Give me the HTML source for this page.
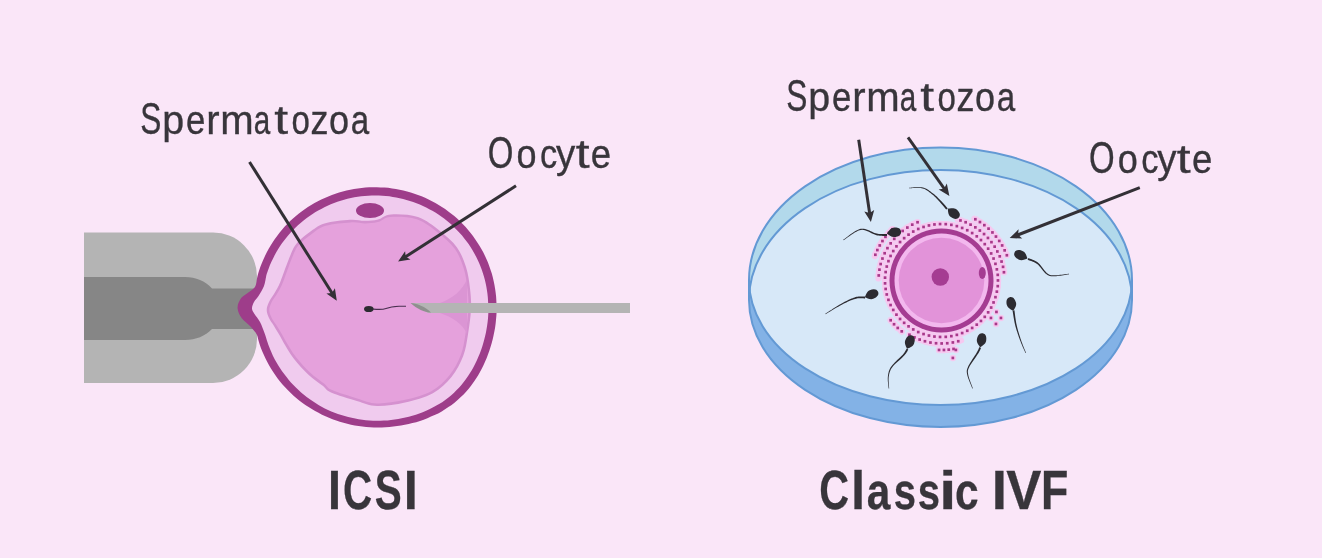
<!DOCTYPE html>
<html><head><meta charset="utf-8"><style>
html,body{margin:0;padding:0;background:#fae6f8;width:1322px;height:558px;overflow:hidden}
svg{display:block;position:absolute;left:0;top:0}
svg.t{will-change:transform}
text{font-family:"Liberation Sans",sans-serif}
</style></head><body>
<svg width="1322" height="558" viewBox="0 0 1322 558">
<rect width="1322" height="558" fill="#fae6f8"/>
<path d="M84,232.5 H213 A44,44 0 0 1 257,276.5 V339 A44,44 0 0 1 213,383 H84 Z" fill="#b4b4b4"/>
<path d="M84,277 H185 C196,277 205,281 212,288.5 H262 V329 H212 C205,336 196,340 185,340 H84 Z" fill="#868686"/>
<path d="M257.2,277.5 C257.9,274.7 258.5,272.6 259.3,270.1 C260.1,267.6 261.0,265.2 262.0,262.8 C263.0,260.4 264.0,258.0 265.1,255.7 C266.2,253.4 267.4,251.1 268.7,248.8 C270.0,246.6 271.3,244.4 272.7,242.2 C274.1,240.1 275.6,237.9 277.1,235.9 C278.7,233.8 280.3,231.8 282.0,229.8 C283.6,227.9 285.4,226.0 287.2,224.1 C288.9,222.3 290.8,220.5 292.7,218.8 C294.6,217.1 296.6,215.4 298.6,213.8 C300.6,212.2 302.6,210.7 304.7,209.2 C306.8,207.7 309.0,206.3 311.2,205.0 C313.4,203.7 315.6,202.4 317.9,201.2 C320.1,200.1 322.4,198.9 324.8,197.9 C327.1,196.9 329.5,195.9 331.9,195.0 C334.2,194.1 336.7,193.3 339.1,192.5 C341.6,191.8 344.0,191.1 346.5,190.5 C349.0,189.9 351.5,189.4 354.0,189.0 C356.5,188.6 359.0,188.2 361.6,187.9 C364.1,187.7 366.6,187.5 369.2,187.3 C371.7,187.2 374.3,187.2 376.8,187.2 C379.4,187.3 381.9,187.4 384.5,187.6 C387.0,187.8 389.5,188.0 392.1,188.4 C394.6,188.7 397.1,189.2 399.6,189.7 C402.1,190.2 404.6,190.8 407.1,191.4 C409.5,192.1 412.0,192.8 414.4,193.7 C416.8,194.5 419.2,195.4 421.6,196.3 C423.9,197.3 426.3,198.3 428.6,199.4 C430.9,200.6 433.1,201.7 435.4,203.0 C437.6,204.3 439.8,205.6 441.9,207.0 C444.1,208.4 446.2,209.8 448.3,211.4 C450.3,212.9 452.3,214.5 454.3,216.1 C456.2,217.8 458.1,219.5 460.0,221.3 C461.8,223.1 463.6,224.9 465.4,226.8 C467.1,228.7 468.8,230.7 470.4,232.7 C472.0,234.7 473.6,236.8 475.0,238.9 C476.5,241.0 477.9,243.2 479.3,245.4 C480.6,247.6 481.9,249.8 483.1,252.1 C484.3,254.4 485.4,256.7 486.4,259.1 C487.5,261.4 488.5,263.8 489.3,266.3 C490.2,268.7 491.0,271.2 491.8,273.6 C492.5,276.1 493.1,278.6 493.7,281.2 C494.3,283.7 494.7,286.2 495.1,288.8 C495.5,291.4 495.8,293.9 496.1,296.5 C496.3,299.1 496.4,301.7 496.5,304.3 C496.6,306.9 496.6,309.5 496.6,312.1 C496.5,314.6 496.3,317.2 496.0,319.8 C495.8,322.4 495.5,325.0 495.1,327.6 C494.7,330.1 494.2,332.7 493.6,335.2 C493.1,337.8 492.5,340.3 491.8,342.8 C491.1,345.3 490.3,347.8 489.5,350.3 C488.6,352.8 487.7,355.2 486.8,357.7 C485.8,360.1 484.7,362.5 483.6,364.9 C482.5,367.3 481.3,369.6 480.0,371.9 C478.7,374.2 477.4,376.5 475.9,378.7 C474.5,381.0 473.0,383.1 471.4,385.2 C469.8,387.4 468.1,389.4 466.3,391.4 C464.5,393.4 462.7,395.3 460.8,397.1 C458.9,399.0 456.9,400.7 454.8,402.4 C452.7,404.1 450.6,405.7 448.4,407.1 C446.2,408.6 443.9,410.0 441.7,411.4 C439.4,412.7 437.0,413.9 434.6,415.1 C432.2,416.2 429.8,417.2 427.4,418.2 C424.9,419.2 422.5,420.1 420.0,420.9 C417.5,421.7 414.9,422.4 412.4,423.1 C409.9,423.7 407.4,424.3 404.8,424.8 C402.3,425.3 399.7,425.8 397.1,426.1 C394.6,426.5 392.0,426.8 389.4,427.0 C386.8,427.2 384.2,427.4 381.7,427.4 C379.1,427.5 376.5,427.5 373.9,427.4 C371.4,427.3 368.8,427.2 366.2,427.0 C363.7,426.7 361.1,426.4 358.6,426.0 C356.0,425.7 353.5,425.2 351.0,424.7 C348.5,424.1 346.0,423.5 343.5,422.8 C341.0,422.2 338.6,421.4 336.2,420.6 C333.7,419.7 331.3,418.8 329.0,417.8 C326.6,416.9 324.3,415.8 322.0,414.7 C319.7,413.5 317.4,412.4 315.1,411.1 C312.9,409.8 310.7,408.5 308.6,407.1 C306.4,405.7 304.3,404.2 302.2,402.7 C300.2,401.1 298.2,399.5 296.2,397.9 C294.2,396.2 292.3,394.5 290.5,392.7 C288.6,390.9 286.8,389.1 285.1,387.2 C283.3,385.3 281.7,383.4 280.0,381.4 C278.4,379.4 276.9,377.3 275.4,375.2 C273.9,373.1 272.5,370.9 271.1,368.7 C269.8,366.5 268.5,364.3 267.3,362.0 C266.1,359.7 264.9,357.4 263.9,355.0 C262.8,352.7 261.8,350.3 260.9,347.9 C260.0,345.5 259.2,342.8 258.5,340.5 C257.7,338.2 257.9,336.4 256.5,334.0 C255.1,331.6 252.4,328.6 250.0,326.0 C247.6,323.4 244.1,321.4 242.0,318.5 C239.9,315.6 237.8,311.8 237.6,308.5 C237.3,305.2 238.9,301.5 240.5,299.0 C242.1,296.5 244.6,295.5 247.0,293.5 C249.4,291.5 253.3,289.7 255.0,287.0 C256.7,284.3 256.4,280.4 257.2,277.5 Z" fill="#9e3d8a"/>
<path d="M266.3,275.5 C267.1,272.6 267.8,270.9 268.6,268.7 C269.4,266.5 270.3,264.3 271.3,262.1 C272.3,260.0 273.3,257.8 274.4,255.7 C275.5,253.6 276.7,251.5 277.9,249.5 C279.1,247.5 280.4,245.5 281.8,243.6 C283.2,241.6 284.6,239.7 286.1,237.9 C287.5,236.1 289.1,234.3 290.7,232.5 C292.3,230.8 293.9,229.1 295.6,227.4 C297.3,225.8 299.1,224.2 300.9,222.7 C302.6,221.1 304.5,219.7 306.4,218.3 C308.3,216.9 310.2,215.5 312.2,214.2 C314.1,212.9 316.1,211.7 318.2,210.5 C320.2,209.4 322.3,208.3 324.4,207.2 C326.5,206.2 328.6,205.2 330.8,204.3 C333.0,203.4 335.2,202.6 337.4,201.8 C339.6,201.1 341.8,200.4 344.1,199.7 C346.4,199.1 348.6,198.5 350.9,198.0 C353.2,197.6 355.5,197.1 357.8,196.8 C360.1,196.4 362.5,196.2 364.8,196.0 C367.1,195.7 369.5,195.6 371.8,195.5 C374.1,195.5 376.5,195.5 378.8,195.6 C381.2,195.6 383.5,195.8 385.8,196.0 C388.2,196.2 390.5,196.5 392.8,196.9 C395.1,197.2 397.4,197.7 399.7,198.2 C402.0,198.7 404.3,199.3 406.5,199.9 C408.8,200.5 411.0,201.2 413.2,202.0 C415.4,202.8 417.6,203.6 419.8,204.6 C421.9,205.5 424.1,206.5 426.2,207.5 C428.3,208.6 430.3,209.7 432.4,210.8 C434.4,212.0 436.4,213.3 438.4,214.6 C440.3,215.9 442.2,217.2 444.1,218.6 C446.0,220.1 447.8,221.5 449.6,223.1 C451.4,224.6 453.2,226.2 454.8,227.9 C456.5,229.5 458.2,231.2 459.7,233.0 C461.3,234.7 462.9,236.5 464.3,238.4 C465.8,240.2 467.2,242.2 468.6,244.1 C469.9,246.0 471.2,248.0 472.4,250.1 C473.6,252.1 474.8,254.2 475.9,256.3 C477.0,258.4 478.0,260.5 479.0,262.7 C479.9,264.9 480.8,267.1 481.6,269.3 C482.4,271.6 483.2,273.8 483.8,276.1 C484.5,278.4 485.1,280.7 485.6,283.0 C486.1,285.3 486.6,287.7 486.9,290.0 C487.3,292.4 487.6,294.7 487.8,297.1 C488.0,299.5 488.1,301.9 488.2,304.2 C488.3,306.6 488.4,309.0 488.4,311.4 C488.3,313.8 488.2,316.2 488.0,318.6 C487.8,320.9 487.5,323.3 487.1,325.7 C486.8,328.0 486.3,330.4 485.9,332.8 C485.4,335.1 484.8,337.4 484.2,339.8 C483.6,342.1 482.9,344.4 482.2,346.7 C481.4,349.0 480.6,351.2 479.8,353.5 C478.9,355.7 477.9,358.0 476.9,360.2 C475.9,362.4 474.8,364.6 473.7,366.7 C472.6,368.9 471.3,371.0 470.0,373.1 C468.8,375.1 467.4,377.2 466.0,379.1 C464.5,381.1 463.0,383.1 461.4,384.9 C459.8,386.8 458.2,388.6 456.4,390.3 C454.7,392.1 452.9,393.8 451.0,395.4 C449.2,397.0 447.2,398.5 445.2,399.9 C443.2,401.4 441.2,402.7 439.1,404.0 C437.0,405.3 434.9,406.5 432.7,407.6 C430.5,408.7 428.3,409.8 426.1,410.7 C423.8,411.7 421.6,412.6 419.3,413.4 C417.0,414.2 414.7,415.0 412.3,415.7 C410.0,416.3 407.7,416.9 405.3,417.5 C402.9,418.0 400.6,418.5 398.2,418.9 C395.8,419.3 393.4,419.6 391.0,419.9 C388.7,420.2 386.3,420.4 383.9,420.5 C381.5,420.6 379.1,420.7 376.7,420.7 C374.3,420.7 371.9,420.6 369.5,420.4 C367.1,420.3 364.7,420.1 362.3,419.8 C359.9,419.5 357.6,419.1 355.2,418.6 C352.9,418.2 350.5,417.7 348.2,417.1 C345.9,416.5 343.6,415.8 341.3,415.1 C339.1,414.4 336.8,413.6 334.6,412.7 C332.4,411.8 330.2,410.9 328.0,409.9 C325.9,408.9 323.7,407.8 321.6,406.7 C319.5,405.5 317.5,404.3 315.5,403.0 C313.4,401.8 311.5,400.5 309.5,399.1 C307.6,397.7 305.7,396.2 303.9,394.7 C302.0,393.2 300.2,391.7 298.5,390.0 C296.7,388.4 295.0,386.8 293.4,385.0 C291.7,383.3 290.1,381.6 288.6,379.7 C287.1,377.9 285.6,376.0 284.2,374.1 C282.7,372.2 281.4,370.3 280.1,368.3 C278.8,366.3 277.5,364.3 276.4,362.2 C275.2,360.1 274.1,358.0 273.0,355.9 C272.0,353.7 271.0,351.5 270.1,349.3 C269.2,347.1 268.5,345.4 267.6,342.6 C266.7,339.9 265.8,336.4 264.5,333.0 C263.2,329.6 261.7,325.2 260.0,322.0 C258.3,318.8 255.8,316.2 254.5,314.0 C253.2,311.8 252.1,310.5 252.0,308.5 C251.9,306.5 252.9,304.1 254.0,302.0 C255.1,299.9 256.8,298.7 258.5,296.0 C260.2,293.3 262.7,289.4 264.0,286.0 C265.3,282.6 265.6,278.4 266.3,275.5 Z" fill="#f0cbee"/>
<path d="M266.7,310.0 C266.7,307.3 267.8,304.7 269.0,302.0 C270.2,299.3 272.3,296.8 274.0,294.0 C275.7,291.2 277.6,288.0 279.0,285.0 C280.4,282.0 280.6,281.0 282.5,276.0 C284.4,271.0 288.1,260.5 290.5,255.0 C292.9,249.5 293.8,246.8 297.0,243.0 C300.2,239.2 304.9,235.6 309.5,232.3 C314.1,229.1 317.8,225.6 324.5,223.5 C331.2,221.4 343.2,220.2 350.0,219.8 C356.8,219.4 360.3,220.9 365.0,220.8 C369.7,220.8 373.7,220.6 378.0,219.5 C382.3,218.4 384.3,214.8 391.0,214.4 C397.7,214.0 409.8,214.2 418.0,217.0 C426.2,219.8 433.5,225.9 440.0,231.0 C446.5,236.1 452.7,241.5 457.0,247.5 C461.3,253.5 463.8,260.2 466.0,267.0 C468.2,273.8 469.2,281.4 470.0,288.5 C470.8,295.6 471.4,301.8 471.0,309.5 C470.6,317.2 469.2,327.2 467.9,335.0 C466.6,342.8 465.9,349.0 463.2,356.0 C460.5,363.0 456.6,370.7 451.5,376.9 C446.4,383.1 440.6,388.9 432.9,393.2 C425.1,397.5 414.3,400.4 405.0,402.5 C395.7,404.6 385.0,406.2 377.0,406.0 C369.0,405.8 364.5,403.2 356.8,401.0 C349.1,398.8 336.7,395.0 331.0,392.5 C325.3,390.0 326.5,388.8 322.7,385.8 C318.9,382.8 313.0,379.1 308.2,374.5 C303.4,369.9 297.6,363.3 293.7,358.4 C289.8,353.5 287.3,348.7 285.0,345.0 C282.7,341.3 281.8,339.2 280.0,336.0 C278.2,332.8 275.8,329.0 274.0,326.0 C272.2,323.0 270.2,320.7 269.0,318.0 C267.8,315.3 266.7,312.7 266.7,310.0 Z" fill="#d591cf"/>
<path d="M269.3,310.0 C269.3,307.4 270.4,304.8 271.6,302.2 C272.8,299.6 274.9,297.2 276.6,294.5 C278.2,291.7 280.1,288.6 281.5,285.7 C282.9,282.8 283.1,281.9 284.9,277.0 C286.8,272.1 290.3,261.9 292.6,256.5 C294.9,251.2 295.8,248.5 298.9,244.8 C302.0,241.1 306.6,237.5 311.1,234.4 C315.5,231.2 319.1,227.8 325.7,225.8 C332.2,223.8 343.9,222.8 350.5,222.4 C357.1,221.9 360.6,223.4 365.1,223.4 C369.6,223.4 373.5,223.2 377.7,222.1 C381.9,221.0 383.9,217.4 390.4,216.9 C396.9,216.5 408.8,216.6 416.8,219.3 C424.8,222.0 431.9,228.0 438.3,232.9 C444.6,237.9 450.7,243.2 454.9,249.0 C459.1,254.9 461.5,261.4 463.6,268.1 C465.7,274.7 466.7,282.1 467.5,289.1 C468.3,296.0 468.7,302.0 468.4,309.5 C468.1,317.1 466.6,326.8 465.4,334.4 C464.1,342.0 463.5,348.1 460.8,354.9 C458.2,361.7 454.4,369.2 449.5,375.3 C444.5,381.3 438.9,387.0 431.3,391.2 C423.7,395.3 413.1,398.0 404.0,400.1 C394.9,402.1 384.6,403.7 376.8,403.4 C368.9,403.1 364.6,400.6 357.1,398.4 C349.7,396.2 337.6,392.6 332.1,390.1 C326.6,387.7 327.7,386.5 324.0,383.6 C320.4,380.7 314.7,377.0 310.0,372.6 C305.3,368.2 299.7,361.8 295.9,357.0 C292.1,352.2 289.6,347.6 287.4,344.0 C285.2,340.4 284.3,338.4 282.5,335.3 C280.7,332.2 278.4,328.5 276.6,325.6 C274.7,322.7 272.8,320.4 271.6,317.8 C270.4,315.2 269.3,312.6 269.3,310.0 Z" fill="#e5a1dc"/>
<path d="M467,279 C463,290 452,299 440,303 L440,313 C452,317 463,324 467,334 Z" fill="#db95d4"/>
<ellipse cx="370" cy="210.5" rx="14" ry="7.5" fill="#9e3d8a"/>
<polygon points="411,303 630,303 630,313 428,313" fill="#b4b4b4"/>
<path d="M410.5,303 C416,303 426,307 431,312.5 C426,313 417,309 410.5,303 Z" fill="#8e908e"/>
<path d="M372,309 C378,309.5 382,310 386,308.5 C390,307 394,306.5 399,306.3 C402,306.2 404,306.3 406,306.2" fill="none" stroke="#4a3050" stroke-width="1.1"/>
<ellipse cx="368.8" cy="309" rx="4.8" ry="3.1" fill="#2c2b31"/>
<line x1="249.5" y1="162.0" x2="332.3" y2="293.5" stroke="#333036" stroke-width="3"/><polygon points="336.8,300.7 326.4,293.6 332.0,293.1 334.9,288.3" fill="#333036"/>
<line x1="516.0" y1="185.8" x2="405.2" y2="257.0" stroke="#333036" stroke-width="3"/><polygon points="398.1,261.6 405.1,251.2 405.7,256.7 410.5,259.6" fill="#333036"/>
<path d="M749,280 A191.5,132.5 0 0 1 1132,280 L1132,300 A191.5,127 0 0 1 749,300 Z" fill="#83b2e6"/>
<path d="M749,280 A191.5,132.5 0 0 1 1132,280 L1132,300 A191.5,130 0 0 0 749,300 Z" fill="#b2d9eb"/>
<path d="M749,300 A191.5,130 0 0 1 1132,300 L1132,280 A191.5,125 0 0 1 749,280 Z" fill="#d7e8f8"/>
<g fill="none" stroke="#6399d4" stroke-width="2"><path d="M749,280 A191.5,132.5 0 0 1 1132,280 L1132,300 A191.5,127 0 0 1 749,300 Z"/><path d="M749,300 A191.5,130 0 0 1 1132,300"/><path d="M1132,280 A191.5,125 0 0 1 749,280"/></g>
<g fill="none" stroke="#f6c9f0" stroke-width="6.2" stroke-linecap="round"><circle cx="941.5" cy="280.5" r="54.5"/><circle cx="941.5" cy="280.5" r="56.5"/><path d="M961.0,340.4 A63,63 0 0 1 911.9,336.1"/><path d="M901.8,331.3 A64.5,64.5 0 0 1 890.7,320.2"/><path d="M878.5,278.3 A63,63 0 0 1 914.9,223.4"/><path d="M874.8,256.2 A71,71 0 0 1 891.3,230.3"/><path d="M957.8,219.6 A63,63 0 0 1 1003.5,269.6"/><path d="M974.4,218.7 A70,70 0 0 1 1006.4,254.3"/><path d="M953.6,348.9 A69.5,69.5 0 0 1 939.1,350.0"/></g>
<g fill="#f6c9f0"><circle cx="998.0" cy="280.5" r="3.2"/><circle cx="997.7" cy="286.1" r="3.2"/><circle cx="996.9" cy="291.7" r="3.2"/><circle cx="995.5" cy="297.2" r="3.2"/><circle cx="993.6" cy="302.4" r="3.2"/><circle cx="991.1" cy="307.5" r="3.2"/><circle cx="988.2" cy="312.3" r="3.2"/><circle cx="984.8" cy="316.8" r="3.2"/><circle cx="981.0" cy="320.9" r="3.2"/><circle cx="976.7" cy="324.7" r="3.2"/><circle cx="972.2" cy="328.0" r="3.2"/><circle cx="967.3" cy="330.8" r="3.2"/><circle cx="962.1" cy="333.1" r="3.2"/><circle cx="956.8" cy="334.9" r="3.2"/><circle cx="951.3" cy="336.1" r="3.2"/><circle cx="945.7" cy="336.8" r="3.2"/><circle cx="940.1" cy="337.0" r="3.2"/><circle cx="934.5" cy="336.6" r="3.2"/><circle cx="928.9" cy="335.6" r="3.2"/><circle cx="923.5" cy="334.1" r="3.2"/><circle cx="918.3" cy="332.0" r="3.2"/><circle cx="913.2" cy="329.4" r="3.2"/><circle cx="908.5" cy="326.4" r="3.2"/><circle cx="904.1" cy="322.9" r="3.2"/><circle cx="900.1" cy="318.9" r="3.2"/><circle cx="896.5" cy="314.6" r="3.2"/><circle cx="893.3" cy="310.0" r="3.2"/><circle cx="890.6" cy="305.0" r="3.2"/><circle cx="888.4" cy="299.8" r="3.2"/><circle cx="886.7" cy="294.4" r="3.2"/><circle cx="885.6" cy="288.9" r="3.2"/><circle cx="885.1" cy="283.3" r="3.2"/><circle cx="885.1" cy="277.7" r="3.2"/><circle cx="885.6" cy="272.1" r="3.2"/><circle cx="886.7" cy="266.6" r="3.2"/><circle cx="888.4" cy="261.2" r="3.2"/><circle cx="890.6" cy="256.0" r="3.2"/><circle cx="893.3" cy="251.0" r="3.2"/><circle cx="896.5" cy="246.4" r="3.2"/><circle cx="900.1" cy="242.1" r="3.2"/><circle cx="904.1" cy="238.1" r="3.2"/><circle cx="908.5" cy="234.6" r="3.2"/><circle cx="913.2" cy="231.6" r="3.2"/><circle cx="918.3" cy="229.0" r="3.2"/><circle cx="923.5" cy="226.9" r="3.2"/><circle cx="928.9" cy="225.4" r="3.2"/><circle cx="934.5" cy="224.4" r="3.2"/><circle cx="940.1" cy="224.0" r="3.2"/><circle cx="945.7" cy="224.2" r="3.2"/><circle cx="951.3" cy="224.9" r="3.2"/><circle cx="956.8" cy="226.1" r="3.2"/><circle cx="962.1" cy="227.9" r="3.2"/><circle cx="967.3" cy="230.2" r="3.2"/><circle cx="972.2" cy="233.0" r="3.2"/><circle cx="976.7" cy="236.3" r="3.2"/><circle cx="981.0" cy="240.1" r="3.2"/><circle cx="984.8" cy="244.2" r="3.2"/><circle cx="988.2" cy="248.7" r="3.2"/><circle cx="991.1" cy="253.5" r="3.2"/><circle cx="993.6" cy="258.6" r="3.2"/><circle cx="995.5" cy="263.8" r="3.2"/><circle cx="996.9" cy="269.3" r="3.2"/><circle cx="997.7" cy="274.9" r="3.2"/><circle cx="958.3" cy="341.2" r="3.2"/><circle cx="952.8" cy="342.5" r="3.2"/><circle cx="947.2" cy="343.2" r="3.2"/><circle cx="941.6" cy="343.5" r="3.2"/><circle cx="936.0" cy="343.3" r="3.2"/><circle cx="930.4" cy="342.5" r="3.2"/><circle cx="925.0" cy="341.3" r="3.2"/><circle cx="919.6" cy="339.6" r="3.2"/><circle cx="914.4" cy="337.4" r="3.2"/><circle cx="909.5" cy="334.8" r="3.2"/><circle cx="901.8" cy="331.3" r="3.2"/><circle cx="897.8" cy="327.9" r="3.2"/><circle cx="894.1" cy="324.2" r="3.2"/><circle cx="890.7" cy="320.2" r="3.2"/><circle cx="878.7" cy="275.4" r="3.2"/><circle cx="879.4" cy="269.7" r="3.2"/><circle cx="880.7" cy="264.1" r="3.2"/><circle cx="882.4" cy="258.6" r="3.2"/><circle cx="884.7" cy="253.3" r="3.2"/><circle cx="887.4" cy="248.2" r="3.2"/><circle cx="890.6" cy="243.4" r="3.2"/><circle cx="894.2" cy="238.9" r="3.2"/><circle cx="898.2" cy="234.7" r="3.2"/><circle cx="902.6" cy="230.9" r="3.2"/><circle cx="907.3" cy="227.6" r="3.2"/><circle cx="912.3" cy="224.7" r="3.2"/><circle cx="917.5" cy="222.2" r="3.2"/><circle cx="875.3" cy="254.8" r="3.2"/><circle cx="877.4" cy="250.0" r="3.2"/><circle cx="879.8" cy="245.4" r="3.2"/><circle cx="882.5" cy="241.1" r="3.2"/><circle cx="885.5" cy="236.9" r="3.2"/><circle cx="888.8" cy="232.9" r="3.2"/><circle cx="892.4" cy="229.2" r="3.2"/><circle cx="960.4" cy="220.4" r="3.2"/><circle cx="965.6" cy="222.3" r="3.2"/><circle cx="970.6" cy="224.6" r="3.2"/><circle cx="975.3" cy="227.4" r="3.2"/><circle cx="979.9" cy="230.5" r="3.2"/><circle cx="984.1" cy="234.1" r="3.2"/><circle cx="987.9" cy="237.9" r="3.2"/><circle cx="991.5" cy="242.1" r="3.2"/><circle cx="994.6" cy="246.7" r="3.2"/><circle cx="997.4" cy="251.4" r="3.2"/><circle cx="999.7" cy="256.4" r="3.2"/><circle cx="1001.6" cy="261.6" r="3.2"/><circle cx="1003.0" cy="266.9" r="3.2"/><circle cx="1004.0" cy="272.3" r="3.2"/><circle cx="975.3" cy="219.2" r="3.2"/><circle cx="980.0" cy="222.0" r="3.2"/><circle cx="984.4" cy="225.2" r="3.2"/><circle cx="988.5" cy="228.7" r="3.2"/><circle cx="992.4" cy="232.5" r="3.2"/><circle cx="996.0" cy="236.6" r="3.2"/><circle cx="999.2" cy="240.9" r="3.2"/><circle cx="1002.1" cy="245.5" r="3.2"/><circle cx="1004.7" cy="250.3" r="3.2"/><circle cx="1006.8" cy="255.3" r="3.2"/><circle cx="953.6" cy="348.9" r="3.2"/><circle cx="948.8" cy="349.6" r="3.2"/><circle cx="943.9" cy="350.0" r="3.2"/><circle cx="939.1" cy="350.0" r="3.2"/><circle cx="955.9" cy="350.0" r="3.2"/><circle cx="952.9" cy="358.0" r="3.2"/><circle cx="996.5" cy="312.0" r="3.2"/><circle cx="1001.0" cy="318.0" r="3.2"/><circle cx="996.0" cy="324.0" r="3.2"/><circle cx="991.0" cy="318.0" r="3.2"/></g>
<g fill="#a8388a"><rect x="996.6" y="279.1" width="2.7" height="2.7"/><rect x="996.4" y="284.8" width="2.7" height="2.7"/><rect x="995.5" y="290.3" width="2.7" height="2.7"/><rect x="994.1" y="295.8" width="2.7" height="2.7"/><rect x="992.2" y="301.1" width="2.7" height="2.7"/><rect x="989.8" y="306.2" width="2.7" height="2.7"/><rect x="986.8" y="311.0" width="2.7" height="2.7"/><rect x="983.4" y="315.5" width="2.7" height="2.7"/><rect x="979.6" y="319.6" width="2.7" height="2.7"/><rect x="975.4" y="323.3" width="2.7" height="2.7"/><rect x="970.8" y="326.6" width="2.7" height="2.7"/><rect x="965.9" y="329.4" width="2.7" height="2.7"/><rect x="960.8" y="331.7" width="2.7" height="2.7"/><rect x="955.5" y="333.5" width="2.7" height="2.7"/><rect x="950.0" y="334.8" width="2.7" height="2.7"/><rect x="944.4" y="335.5" width="2.7" height="2.7"/><rect x="938.7" y="335.6" width="2.7" height="2.7"/><rect x="933.1" y="335.2" width="2.7" height="2.7"/><rect x="927.6" y="334.2" width="2.7" height="2.7"/><rect x="922.2" y="332.7" width="2.7" height="2.7"/><rect x="916.9" y="330.7" width="2.7" height="2.7"/><rect x="911.9" y="328.1" width="2.7" height="2.7"/><rect x="907.2" y="325.0" width="2.7" height="2.7"/><rect x="902.8" y="321.5" width="2.7" height="2.7"/><rect x="898.7" y="317.6" width="2.7" height="2.7"/><rect x="895.1" y="313.3" width="2.7" height="2.7"/><rect x="891.9" y="308.6" width="2.7" height="2.7"/><rect x="889.2" y="303.7" width="2.7" height="2.7"/><rect x="887.1" y="298.5" width="2.7" height="2.7"/><rect x="885.4" y="293.1" width="2.7" height="2.7"/><rect x="884.3" y="287.6" width="2.7" height="2.7"/><rect x="883.7" y="282.0" width="2.7" height="2.7"/><rect x="883.7" y="276.3" width="2.7" height="2.7"/><rect x="884.3" y="270.7" width="2.7" height="2.7"/><rect x="885.4" y="265.2" width="2.7" height="2.7"/><rect x="887.1" y="259.8" width="2.7" height="2.7"/><rect x="889.2" y="254.6" width="2.7" height="2.7"/><rect x="891.9" y="249.7" width="2.7" height="2.7"/><rect x="895.1" y="245.0" width="2.7" height="2.7"/><rect x="898.7" y="240.7" width="2.7" height="2.7"/><rect x="902.8" y="236.8" width="2.7" height="2.7"/><rect x="907.2" y="233.3" width="2.7" height="2.7"/><rect x="911.9" y="230.2" width="2.7" height="2.7"/><rect x="916.9" y="227.6" width="2.7" height="2.7"/><rect x="922.2" y="225.6" width="2.7" height="2.7"/><rect x="927.6" y="224.1" width="2.7" height="2.7"/><rect x="933.1" y="223.1" width="2.7" height="2.7"/><rect x="938.7" y="222.7" width="2.7" height="2.7"/><rect x="944.4" y="222.8" width="2.7" height="2.7"/><rect x="950.0" y="223.5" width="2.7" height="2.7"/><rect x="955.5" y="224.8" width="2.7" height="2.7"/><rect x="960.8" y="226.6" width="2.7" height="2.7"/><rect x="965.9" y="228.9" width="2.7" height="2.7"/><rect x="970.8" y="231.7" width="2.7" height="2.7"/><rect x="975.4" y="235.0" width="2.7" height="2.7"/><rect x="979.6" y="238.7" width="2.7" height="2.7"/><rect x="983.4" y="242.8" width="2.7" height="2.7"/><rect x="986.8" y="247.3" width="2.7" height="2.7"/><rect x="989.8" y="252.1" width="2.7" height="2.7"/><rect x="992.2" y="257.2" width="2.7" height="2.7"/><rect x="994.1" y="262.5" width="2.7" height="2.7"/><rect x="995.5" y="268.0" width="2.7" height="2.7"/><rect x="996.4" y="273.5" width="2.7" height="2.7"/><rect x="956.9" y="339.9" width="2.7" height="2.7"/><rect x="951.5" y="341.1" width="2.7" height="2.7"/><rect x="945.9" y="341.9" width="2.7" height="2.7"/><rect x="940.3" y="342.1" width="2.7" height="2.7"/><rect x="934.7" y="341.9" width="2.7" height="2.7"/><rect x="929.1" y="341.2" width="2.7" height="2.7"/><rect x="923.6" y="339.9" width="2.7" height="2.7"/><rect x="918.3" y="338.2" width="2.7" height="2.7"/><rect x="913.1" y="336.0" width="2.7" height="2.7"/><rect x="908.1" y="333.4" width="2.7" height="2.7"/><rect x="900.4" y="330.0" width="2.7" height="2.7"/><rect x="896.4" y="326.6" width="2.7" height="2.7"/><rect x="892.7" y="322.9" width="2.7" height="2.7"/><rect x="889.3" y="318.9" width="2.7" height="2.7"/><rect x="877.4" y="274.1" width="2.7" height="2.7"/><rect x="878.1" y="268.3" width="2.7" height="2.7"/><rect x="879.3" y="262.7" width="2.7" height="2.7"/><rect x="881.1" y="257.2" width="2.7" height="2.7"/><rect x="883.3" y="251.9" width="2.7" height="2.7"/><rect x="886.1" y="246.8" width="2.7" height="2.7"/><rect x="889.3" y="242.0" width="2.7" height="2.7"/><rect x="892.9" y="237.5" width="2.7" height="2.7"/><rect x="896.9" y="233.4" width="2.7" height="2.7"/><rect x="901.3" y="229.6" width="2.7" height="2.7"/><rect x="906.0" y="226.2" width="2.7" height="2.7"/><rect x="910.9" y="223.3" width="2.7" height="2.7"/><rect x="916.2" y="220.9" width="2.7" height="2.7"/><rect x="874.0" y="253.4" width="2.7" height="2.7"/><rect x="876.0" y="248.7" width="2.7" height="2.7"/><rect x="878.4" y="244.1" width="2.7" height="2.7"/><rect x="881.1" y="239.7" width="2.7" height="2.7"/><rect x="884.1" y="235.5" width="2.7" height="2.7"/><rect x="887.5" y="231.6" width="2.7" height="2.7"/><rect x="891.1" y="227.9" width="2.7" height="2.7"/><rect x="959.1" y="219.1" width="2.7" height="2.7"/><rect x="964.3" y="220.9" width="2.7" height="2.7"/><rect x="969.2" y="223.3" width="2.7" height="2.7"/><rect x="974.0" y="226.0" width="2.7" height="2.7"/><rect x="978.5" y="229.2" width="2.7" height="2.7"/><rect x="982.7" y="232.7" width="2.7" height="2.7"/><rect x="986.6" y="236.6" width="2.7" height="2.7"/><rect x="990.1" y="240.8" width="2.7" height="2.7"/><rect x="993.3" y="245.3" width="2.7" height="2.7"/><rect x="996.0" y="250.1" width="2.7" height="2.7"/><rect x="998.4" y="255.0" width="2.7" height="2.7"/><rect x="1000.2" y="260.2" width="2.7" height="2.7"/><rect x="1001.7" y="265.5" width="2.7" height="2.7"/><rect x="1002.6" y="270.9" width="2.7" height="2.7"/><rect x="974.0" y="217.9" width="2.7" height="2.7"/><rect x="978.6" y="220.7" width="2.7" height="2.7"/><rect x="983.0" y="223.8" width="2.7" height="2.7"/><rect x="987.2" y="227.3" width="2.7" height="2.7"/><rect x="991.1" y="231.1" width="2.7" height="2.7"/><rect x="994.6" y="235.2" width="2.7" height="2.7"/><rect x="997.9" y="239.6" width="2.7" height="2.7"/><rect x="1000.8" y="244.1" width="2.7" height="2.7"/><rect x="1003.3" y="249.0" width="2.7" height="2.7"/><rect x="1005.5" y="253.9" width="2.7" height="2.7"/><rect x="952.2" y="347.6" width="2.7" height="2.7"/><rect x="947.4" y="348.3" width="2.7" height="2.7"/><rect x="942.6" y="348.6" width="2.7" height="2.7"/><rect x="937.7" y="348.6" width="2.7" height="2.7"/><rect x="954.5" y="348.6" width="2.7" height="2.7"/><rect x="951.5" y="356.6" width="2.7" height="2.7"/><rect x="995.1" y="310.6" width="2.7" height="2.7"/><rect x="999.6" y="316.6" width="2.7" height="2.7"/><rect x="994.6" y="322.6" width="2.7" height="2.7"/><rect x="989.6" y="316.6" width="2.7" height="2.7"/></g>
<circle cx="941.5" cy="280.5" r="52" fill="#a53c92"/>
<circle cx="941.5" cy="280.5" r="47" fill="#f3b8ee"/>
<circle cx="941.5" cy="280.5" r="42.8" fill="#e293d9"/>
<circle cx="940.3" cy="277" r="8.7" fill="#a53c92"/>
<ellipse cx="982.3" cy="273" rx="3.5" ry="6" fill="#a53c92"/>
<path d="M887.03,234.05 L886.53,234.04 L885.92,234.05 L885.24,234.07 L884.49,234.09 L883.67,234.11 L882.80,234.12 L881.87,234.12 L880.90,234.09 L879.90,234.03 L878.87,233.93 L877.82,233.80 L876.78,233.62 L875.72,233.34 L874.59,232.93 L873.39,232.41 L872.12,231.82 L870.79,231.20 L869.43,230.57 L868.03,229.98 L866.60,229.45 L865.15,229.04 L863.67,228.78 L862.19,228.70 L860.70,228.84 L859.17,229.26 L857.57,229.92 L855.90,230.79 L854.20,231.80 L852.50,232.92 L850.83,234.10 L849.21,235.30 L847.69,236.46 L846.29,237.55 L845.04,238.51 L843.99,239.30 L843.15,239.87 L843.45,240.33 L844.32,239.77 L845.41,239.00 L846.68,238.07 L848.11,237.03 L849.66,235.91 L851.30,234.77 L852.99,233.65 L854.69,232.60 L856.37,231.66 L857.99,230.87 L859.52,230.29 L860.90,229.96 L862.20,229.87 L863.52,229.98 L864.85,230.26 L866.18,230.68 L867.52,231.21 L868.86,231.82 L870.18,232.47 L871.48,233.13 L872.75,233.77 L874.01,234.35 L875.23,234.83 L876.42,235.18 L877.55,235.41 L878.66,235.59 L879.75,235.72 L880.80,235.81 L881.81,235.87 L882.78,235.90 L883.68,235.92 L884.52,235.92 L885.27,235.92 L885.94,235.92 L886.50,235.93 L886.97,235.95Z" fill="#2c2b31"/><path d="M7.1,0 C7.1,-3.76 3.19,-4.7 0,-4.7 C-3.19,-4.7 -5.68,-1.41 -7.1,0 C-5.68,1.41 -3.19,4.7 0,4.7 C3.19,4.7 7.1,3.76 7.1,0 Z" transform="translate(894 232.4) rotate(-8)" fill="#2c2b31"/>
<path d="M947.72,208.38 L947.38,208.00 L946.95,207.51 L946.45,206.94 L945.89,206.30 L945.28,205.60 L944.62,204.86 L943.95,204.10 L943.26,203.33 L942.56,202.56 L941.88,201.82 L941.21,201.11 L940.58,200.45 L939.98,199.84 L939.39,199.24 L938.81,198.63 L938.22,198.04 L937.64,197.45 L937.04,196.86 L936.43,196.28 L935.81,195.71 L935.17,195.14 L934.50,194.58 L933.81,194.03 L933.10,193.49 L932.37,192.94 L931.63,192.38 L930.87,191.81 L930.09,191.23 L929.30,190.66 L928.47,190.10 L927.62,189.56 L926.75,189.05 L925.84,188.59 L924.90,188.17 L923.93,187.82 L922.91,187.54 L921.81,187.33 L920.60,187.21 L919.32,187.15 L917.98,187.15 L916.62,187.19 L915.26,187.26 L913.95,187.35 L912.70,187.45 L911.55,187.55 L910.53,187.63 L909.67,187.70 L908.99,187.73 L909.01,188.27 L909.69,188.27 L910.57,188.23 L911.59,188.17 L912.74,188.11 L913.99,188.04 L915.30,187.99 L916.64,187.96 L917.98,187.96 L919.28,188.00 L920.53,188.10 L921.67,188.25 L922.69,188.46 L923.61,188.75 L924.51,189.11 L925.38,189.52 L926.22,189.99 L927.04,190.49 L927.84,191.03 L928.62,191.59 L929.38,192.18 L930.13,192.77 L930.86,193.36 L931.59,193.95 L932.30,194.51 L932.99,195.06 L933.64,195.61 L934.26,196.17 L934.86,196.73 L935.45,197.31 L936.02,197.89 L936.59,198.47 L937.15,199.07 L937.71,199.68 L938.27,200.29 L938.84,200.92 L939.42,201.55 L940.02,202.21 L940.66,202.92 L941.31,203.67 L941.97,204.45 L942.64,205.24 L943.29,206.01 L943.91,206.77 L944.50,207.48 L945.05,208.14 L945.53,208.72 L945.95,209.22 L946.28,209.62Z" fill="#2c2b31"/><path d="M7.1,0 C7.1,-3.76 3.19,-4.7 0,-4.7 C-3.19,-4.7 -5.68,-1.41 -7.1,0 C-5.68,1.41 -3.19,4.7 0,4.7 C3.19,4.7 7.1,3.76 7.1,0 Z" transform="translate(953.4 213) rotate(38)" fill="#2c2b31"/>
<path d="M1027.64,259.88 L1028.13,260.07 L1028.74,260.28 L1029.44,260.51 L1030.22,260.76 L1031.05,261.03 L1031.92,261.33 L1032.83,261.67 L1033.74,262.04 L1034.64,262.46 L1035.51,262.90 L1036.34,263.40 L1037.10,263.93 L1037.84,264.55 L1038.59,265.29 L1039.36,266.13 L1040.14,267.05 L1040.92,268.01 L1041.69,269.00 L1042.47,269.99 L1043.24,270.96 L1043.99,271.87 L1044.75,272.71 L1045.49,273.45 L1046.22,274.07 L1046.89,274.56 L1047.49,274.97 L1048.05,275.31 L1048.59,275.59 L1049.12,275.81 L1049.66,275.99 L1050.22,276.11 L1050.81,276.19 L1051.44,276.25 L1052.14,276.27 L1052.91,276.29 L1053.80,276.29 L1054.85,276.26 L1056.08,276.17 L1057.44,276.03 L1058.89,275.85 L1060.39,275.64 L1061.90,275.41 L1063.39,275.18 L1064.81,274.95 L1066.13,274.73 L1067.30,274.54 L1068.28,274.38 L1069.04,274.27 L1068.96,273.73 L1068.20,273.82 L1067.21,273.95 L1066.03,274.10 L1064.71,274.28 L1063.29,274.47 L1061.80,274.66 L1060.28,274.85 L1058.79,275.01 L1057.35,275.15 L1056.01,275.25 L1054.82,275.31 L1053.80,275.31 L1052.94,275.28 L1052.18,275.24 L1051.52,275.20 L1050.94,275.13 L1050.43,275.04 L1049.96,274.93 L1049.52,274.77 L1049.09,274.57 L1048.63,274.32 L1048.13,274.00 L1047.59,273.60 L1046.98,273.13 L1046.34,272.56 L1045.68,271.86 L1044.99,271.04 L1044.28,270.13 L1043.55,269.16 L1042.81,268.16 L1042.05,267.14 L1041.28,266.13 L1040.51,265.16 L1039.72,264.24 L1038.91,263.40 L1038.10,262.67 L1037.24,262.04 L1036.34,261.47 L1035.40,260.95 L1034.44,260.48 L1033.49,260.06 L1032.55,259.68 L1031.65,259.34 L1030.81,259.03 L1030.04,258.76 L1029.36,258.52 L1028.80,258.31 L1028.36,258.12Z" fill="#2c2b31"/><path d="M7.1,0 C7.1,-3.76 3.19,-4.7 0,-4.7 C-3.19,-4.7 -5.68,-1.41 -7.1,0 C-5.68,1.41 -3.19,4.7 0,4.7 C3.19,4.7 7.1,3.76 7.1,0 Z" transform="translate(1021 255.5) rotate(205)" fill="#2c2b31"/>
<path d="M865.00,296.55 L864.59,296.56 L864.09,296.55 L863.50,296.52 L862.82,296.49 L862.07,296.46 L861.26,296.45 L860.39,296.45 L859.48,296.49 L858.54,296.56 L857.57,296.69 L856.58,296.87 L855.59,297.12 L854.61,297.42 L853.60,297.77 L852.57,298.15 L851.51,298.58 L850.42,299.04 L849.30,299.54 L848.17,300.07 L847.00,300.63 L845.82,301.23 L844.61,301.85 L843.38,302.51 L842.13,303.19 L840.78,303.95 L839.31,304.82 L837.75,305.77 L836.12,306.78 L834.48,307.82 L832.84,308.86 L831.26,309.88 L829.75,310.86 L828.36,311.76 L827.13,312.57 L826.08,313.24 L825.26,313.77 L825.54,314.23 L826.39,313.73 L827.46,313.09 L828.72,312.32 L830.13,311.47 L831.66,310.54 L833.28,309.56 L834.94,308.57 L836.62,307.59 L838.26,306.63 L839.84,305.74 L841.33,304.92 L842.67,304.21 L843.93,303.58 L845.17,302.97 L846.39,302.39 L847.57,301.84 L848.74,301.31 L849.87,300.83 L850.98,300.37 L852.05,299.96 L853.09,299.58 L854.10,299.24 L855.08,298.94 L856.01,298.68 L856.91,298.48 L857.80,298.34 L858.69,298.26 L859.56,298.22 L860.40,298.21 L861.22,298.23 L861.99,298.27 L862.72,298.32 L863.39,298.37 L864.00,298.42 L864.55,298.45 L865.00,298.45Z" fill="#2c2b31"/><path d="M7.1,0 C7.1,-3.76 3.19,-4.7 0,-4.7 C-3.19,-4.7 -5.68,-1.41 -7.1,0 C-5.68,1.41 -3.19,4.7 0,4.7 C3.19,4.7 7.1,3.76 7.1,0 Z" transform="translate(871.5 294.5) rotate(-22)" fill="#2c2b31"/>
<path d="M1012.56,310.65 L1012.68,311.36 L1012.83,312.25 L1012.99,313.31 L1013.18,314.49 L1013.38,315.78 L1013.60,317.14 L1013.84,318.57 L1014.10,320.03 L1014.38,321.49 L1014.67,322.93 L1014.98,324.33 L1015.30,325.67 L1015.65,326.97 L1016.02,328.30 L1016.43,329.65 L1016.85,331.01 L1017.29,332.37 L1017.74,333.73 L1018.19,335.08 L1018.66,336.40 L1019.12,337.70 L1019.58,338.97 L1020.02,340.19 L1020.46,341.36 L1020.90,342.52 L1021.37,343.69 L1021.86,344.86 L1022.35,346.01 L1022.84,347.14 L1023.33,348.22 L1023.79,349.25 L1024.23,350.22 L1024.64,351.10 L1025.00,351.88 L1025.30,352.55 L1025.55,353.11 L1026.05,352.89 L1025.82,352.33 L1025.54,351.64 L1025.20,350.85 L1024.83,349.96 L1024.42,348.98 L1023.98,347.94 L1023.53,346.84 L1023.08,345.71 L1022.62,344.55 L1022.18,343.37 L1021.75,342.20 L1021.34,341.04 L1020.94,339.86 L1020.54,338.63 L1020.12,337.36 L1019.70,336.06 L1019.28,334.72 L1018.86,333.37 L1018.46,332.01 L1018.06,330.64 L1017.69,329.29 L1017.33,327.94 L1017.00,326.62 L1016.70,325.33 L1016.42,324.02 L1016.16,322.64 L1015.92,321.21 L1015.69,319.76 L1015.48,318.31 L1015.28,316.89 L1015.10,315.53 L1014.94,314.24 L1014.79,313.05 L1014.66,311.99 L1014.54,311.08 L1014.44,310.35Z" fill="#2c2b31"/><path d="M7.1,0 C7.1,-3.76 3.19,-4.7 0,-4.7 C-3.19,-4.7 -5.68,-1.41 -7.1,0 C-5.68,1.41 -3.19,4.7 0,4.7 C3.19,4.7 7.1,3.76 7.1,0 Z" transform="translate(1011.5 304) rotate(-105)" fill="#2c2b31"/>
<path d="M906.69,348.51 L906.51,348.80 L906.33,349.15 L906.15,349.52 L905.96,349.92 L905.74,350.35 L905.49,350.81 L905.21,351.32 L904.88,351.86 L904.50,352.44 L904.06,353.07 L903.55,353.73 L902.97,354.44 L902.27,355.21 L901.43,356.07 L900.47,357.01 L899.42,358.01 L898.32,359.05 L897.18,360.12 L896.05,361.21 L894.94,362.31 L893.88,363.39 L892.91,364.45 L892.04,365.47 L891.31,366.45 L890.71,367.37 L890.19,368.25 L889.75,369.11 L889.37,369.95 L889.05,370.78 L888.78,371.59 L888.56,372.41 L888.37,373.22 L888.22,374.05 L888.08,374.89 L887.97,375.75 L887.86,376.65 L887.78,377.63 L887.75,378.69 L887.77,379.80 L887.83,380.95 L887.92,382.11 L888.03,383.25 L888.15,384.36 L888.27,385.40 L888.39,386.37 L888.49,387.22 L888.58,387.95 L888.63,388.52 L889.17,388.48 L889.14,387.90 L889.08,387.16 L889.00,386.30 L888.91,385.34 L888.82,384.29 L888.73,383.19 L888.66,382.05 L888.60,380.91 L888.58,379.78 L888.59,378.70 L888.64,377.68 L888.74,376.75 L888.88,375.88 L889.02,375.04 L889.17,374.23 L889.34,373.44 L889.54,372.67 L889.77,371.91 L890.04,371.15 L890.37,370.39 L890.74,369.62 L891.19,368.82 L891.70,368.00 L892.29,367.15 L893.00,366.26 L893.85,365.31 L894.82,364.31 L895.89,363.28 L897.01,362.24 L898.17,361.19 L899.33,360.15 L900.47,359.14 L901.55,358.16 L902.56,357.24 L903.46,356.36 L904.23,355.56 L904.88,354.82 L905.45,354.12 L905.94,353.46 L906.38,352.84 L906.76,352.25 L907.08,351.71 L907.36,351.22 L907.61,350.77 L907.82,350.37 L908.00,350.02 L908.16,349.74 L908.31,349.49Z" fill="#2c2b31"/><path d="M7.1,0 C7.1,-3.76 3.19,-4.7 0,-4.7 C-3.19,-4.7 -5.68,-1.41 -7.1,0 C-5.68,1.41 -3.19,4.7 0,4.7 C3.19,4.7 7.1,3.76 7.1,0 Z" transform="translate(909.6 342.2) rotate(-70)" fill="#2c2b31"/>
<path d="M979.34,347.10 L979.22,347.36 L979.11,347.64 L978.99,347.94 L978.86,348.26 L978.72,348.62 L978.56,349.01 L978.37,349.46 L978.14,349.95 L977.87,350.50 L977.56,351.12 L977.19,351.80 L976.76,352.56 L976.24,353.42 L975.61,354.43 L974.88,355.55 L974.08,356.76 L973.24,358.03 L972.38,359.34 L971.53,360.65 L970.70,361.95 L969.92,363.22 L969.22,364.42 L968.62,365.54 L968.14,366.54 L967.77,367.41 L967.47,368.17 L967.22,368.86 L967.02,369.50 L966.88,370.10 L966.80,370.68 L966.76,371.27 L966.77,371.87 L966.83,372.50 L966.92,373.18 L967.05,373.94 L967.22,374.80 L967.45,375.80 L967.79,376.95 L968.21,378.20 L968.68,379.51 L969.20,380.87 L969.74,382.23 L970.28,383.56 L970.80,384.83 L971.29,386.00 L971.72,387.04 L972.08,387.92 L972.34,388.60 L972.86,388.40 L972.61,387.71 L972.28,386.82 L971.88,385.76 L971.42,384.58 L970.94,383.30 L970.44,381.96 L969.95,380.59 L969.47,379.23 L969.04,377.92 L968.67,376.69 L968.38,375.57 L968.18,374.60 L968.05,373.77 L967.95,373.04 L967.88,372.40 L967.84,371.83 L967.85,371.31 L967.89,370.82 L967.98,370.32 L968.12,369.81 L968.31,369.24 L968.56,368.61 L968.88,367.88 L969.26,367.06 L969.74,366.12 L970.35,365.07 L971.06,363.92 L971.86,362.70 L972.72,361.44 L973.61,360.16 L974.50,358.89 L975.38,357.65 L976.21,356.46 L976.98,355.34 L977.67,354.33 L978.24,353.44 L978.70,352.67 L979.11,351.96 L979.46,351.32 L979.76,350.75 L980.02,350.23 L980.24,349.76 L980.43,349.34 L980.59,348.97 L980.73,348.65 L980.85,348.36 L980.95,348.12 L981.06,347.90Z" fill="#2c2b31"/><path d="M7.1,0 C7.1,-3.76 3.19,-4.7 0,-4.7 C-3.19,-4.7 -5.68,-1.41 -7.1,0 C-5.68,1.41 -3.19,4.7 0,4.7 C3.19,4.7 7.1,3.76 7.1,0 Z" transform="translate(981.5 340.2) rotate(-80)" fill="#2c2b31"/>
<line x1="858.7" y1="139.7" x2="869.7" y2="213.6" stroke="#333036" stroke-width="3"/><polygon points="870.9,222.0 864.3,211.4 869.6,213.1 874.2,209.9" fill="#333036"/>
<line x1="908.0" y1="137.4" x2="944.5" y2="189.0" stroke="#333036" stroke-width="3"/><polygon points="949.4,195.9 938.7,189.4 944.2,188.6 946.8,183.6" fill="#333036"/>
<line x1="1139.8" y1="187.7" x2="1017.6" y2="235.0" stroke="#333036" stroke-width="3"/><polygon points="1009.7,238.1 1018.6,229.3 1018.1,234.8 1022.2,238.6" fill="#333036"/>
</svg>
<svg class="t" width="1322" height="558" viewBox="0 0 1322 558"><g fill="#38353b"><g stroke="#38353b" stroke-width="0.35"><text x="140.16" y="134" font-size="44" textLength="21.09" lengthAdjust="spacingAndGlyphs">S</text><text x="162.26" y="134" font-size="40" textLength="21.89" lengthAdjust="spacingAndGlyphs">p</text><text x="186.02" y="134" font-size="40" textLength="19.32" lengthAdjust="spacingAndGlyphs">e</text><text x="206.14" y="134" font-size="40" textLength="13.32" lengthAdjust="spacingAndGlyphs">r</text><text x="220.24" y="134" font-size="40" textLength="33.41" lengthAdjust="spacingAndGlyphs">m</text><text x="253.84" y="134" font-size="40" textLength="16.46" lengthAdjust="spacingAndGlyphs">a</text><text x="274.35" y="134" font-size="40" textLength="13.82" lengthAdjust="spacingAndGlyphs">t</text><text x="291.61" y="134" font-size="40" textLength="18.37" lengthAdjust="spacingAndGlyphs">o</text><text x="310.45" y="134" font-size="40" textLength="17.94" lengthAdjust="spacingAndGlyphs">z</text><text x="328.89" y="134" font-size="40" textLength="20.02" lengthAdjust="spacingAndGlyphs">o</text><text x="350.69" y="134" font-size="40" textLength="18.41" lengthAdjust="spacingAndGlyphs">a</text><text x="786.16" y="111" font-size="44" textLength="21.09" lengthAdjust="spacingAndGlyphs">S</text><text x="808.26" y="111" font-size="40" textLength="21.89" lengthAdjust="spacingAndGlyphs">p</text><text x="832.02" y="111" font-size="40" textLength="19.32" lengthAdjust="spacingAndGlyphs">e</text><text x="852.14" y="111" font-size="40" textLength="13.32" lengthAdjust="spacingAndGlyphs">r</text><text x="866.24" y="111" font-size="40" textLength="33.41" lengthAdjust="spacingAndGlyphs">m</text><text x="899.84" y="111" font-size="40" textLength="16.46" lengthAdjust="spacingAndGlyphs">a</text><text x="920.35" y="111" font-size="40" textLength="13.82" lengthAdjust="spacingAndGlyphs">t</text><text x="937.61" y="111" font-size="40" textLength="18.37" lengthAdjust="spacingAndGlyphs">o</text><text x="956.45" y="111" font-size="40" textLength="17.94" lengthAdjust="spacingAndGlyphs">z</text><text x="974.89" y="111" font-size="40" textLength="20.02" lengthAdjust="spacingAndGlyphs">o</text><text x="996.69" y="111" font-size="40" textLength="18.41" lengthAdjust="spacingAndGlyphs">a</text><text x="487.74" y="168" font-size="44" textLength="25.64" lengthAdjust="spacingAndGlyphs">O</text><text x="516.59" y="168" font-size="40" textLength="20.02" lengthAdjust="spacingAndGlyphs">o</text><text x="539.94" y="168" font-size="40" textLength="17.16" lengthAdjust="spacingAndGlyphs">c</text><text x="556.11" y="168" font-size="40" textLength="19.27" lengthAdjust="spacingAndGlyphs">y</text><text x="575.65" y="168" font-size="40" textLength="13.82" lengthAdjust="spacingAndGlyphs">t</text><text x="590.75" y="168" font-size="40" textLength="20.27" lengthAdjust="spacingAndGlyphs">e</text><text x="1088.94" y="172.5" font-size="44" textLength="25.64" lengthAdjust="spacingAndGlyphs">O</text><text x="1117.79" y="172.5" font-size="40" textLength="20.02" lengthAdjust="spacingAndGlyphs">o</text><text x="1141.14" y="172.5" font-size="40" textLength="17.16" lengthAdjust="spacingAndGlyphs">c</text><text x="1157.31" y="172.5" font-size="40" textLength="19.27" lengthAdjust="spacingAndGlyphs">y</text><text x="1176.85" y="172.5" font-size="40" textLength="13.82" lengthAdjust="spacingAndGlyphs">t</text><text x="1191.95" y="172.5" font-size="40" textLength="20.27" lengthAdjust="spacingAndGlyphs">e</text></g><g stroke="#38353b" stroke-width="0.3"><text x="327.89" y="509" font-size="55" textLength="12.92" lengthAdjust="spacingAndGlyphs" font-weight="bold">I</text><text x="343.04" y="509" font-size="55" textLength="29.16" lengthAdjust="spacingAndGlyphs" font-weight="bold">C</text><text x="374.74" y="509" font-size="55" textLength="26.94" lengthAdjust="spacingAndGlyphs" font-weight="bold">S</text><text x="403.71" y="509" font-size="55" textLength="14.08" lengthAdjust="spacingAndGlyphs" font-weight="bold">I</text><text x="819.21" y="509" font-size="55" textLength="29.82" lengthAdjust="spacingAndGlyphs" font-weight="bold">C</text><text x="850.94" y="509" font-size="52.8" textLength="14.17" lengthAdjust="spacingAndGlyphs" font-weight="bold">l</text><text x="866.86" y="509" font-size="52" textLength="23.57" lengthAdjust="spacingAndGlyphs" font-weight="bold">a</text><text x="893.69" y="509" font-size="52" textLength="22.25" lengthAdjust="spacingAndGlyphs" font-weight="bold">s</text><text x="917.79" y="509" font-size="52" textLength="22.25" lengthAdjust="spacingAndGlyphs" font-weight="bold">s</text><text x="939.23" y="509" font-size="53.5" textLength="17.01" lengthAdjust="spacingAndGlyphs" font-weight="bold">i</text><text x="955.04" y="509" font-size="52" textLength="23.60" lengthAdjust="spacingAndGlyphs" font-weight="bold">c</text><text x="991.73" y="509" font-size="55" textLength="15.24" lengthAdjust="spacingAndGlyphs" font-weight="bold">I</text><text x="1006.14" y="509" font-size="55" textLength="35.12" lengthAdjust="spacingAndGlyphs" font-weight="bold">V</text><text x="1041.11" y="509" font-size="55" textLength="27.33" lengthAdjust="spacingAndGlyphs" font-weight="bold">F</text></g></g></svg>
</body></html>
